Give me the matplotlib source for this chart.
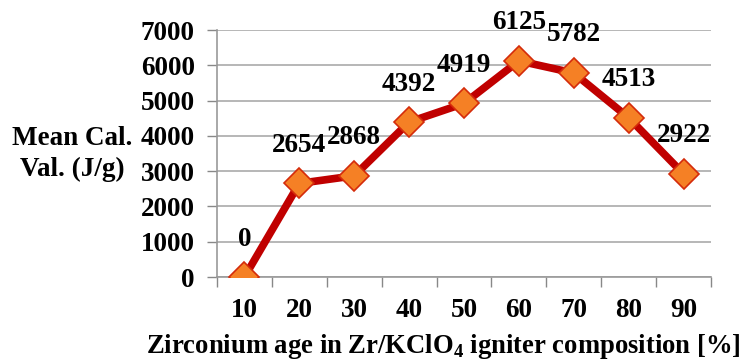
import numpy as np
import matplotlib.pyplot as plt

# composition (% zirconium) and mean calorific value (J/g)
zr_percent = ["10", "20", "30", "40", "50", "60", "70", "80", "90"]
mean_cal = [0, 2654, 2868, 4392, 4919, 6125, 5782, 4513, 2922]
y_ticks = [0, 1000, 2000, 3000, 4000, 5000, 6000, 7000]

plt.rcParams['font.family'] = ['Liberation Serif', 'DejaVu Serif']
plt.rcParams['font.weight'] = 'bold'
plt.rcParams['mathtext.fontset'] = 'custom'
plt.rcParams['mathtext.rm'] = 'Liberation Serif:bold'
plt.rcParams['mathtext.bf'] = 'Liberation Serif:bold'

FS = 19.5

fig = plt.figure(figsize=(7.47, 3.63), dpi=100)
ax = fig.add_axes([0.2905, 0.2369, 0.6613, 0.6804])

x = np.arange(len(zr_percent))
ax.plot(x, mean_cal, color="#C00000", lw=5.5, marker="D", ms=15.5,
        markerfacecolor="#F58025", markeredgecolor="#D42B0B", markeredgewidth=1.2,
        zorder=3, solid_capstyle="round")

for xi, v in zip(x, mean_cal):
    ax.annotate(str(v), (xi, v), xytext=(0, 38), textcoords="offset pixels",
                ha="center", va="center", fontsize=FS, fontweight="bold")

ax.set_xlim(-0.5, len(zr_percent) - 0.5)
ax.set_ylim(0, 7000)
ax.set_yticks(y_ticks)
ax.set_xticks(x)
ax.set_xticklabels(zr_percent)
ax.set_xticks(np.arange(-0.5, len(zr_percent)), minor=True)
ax.tick_params(axis="x", which="major", length=0, pad=15, labelsize=FS)
ax.tick_params(axis="x", which="minor", length=7, color="#888888", width=1)
ax.tick_params(axis="y", length=7, color="#888888", width=1, pad=9, labelsize=FS)
ax.grid(axis="y", color="#AAAAAA", lw=1.2)
ax.set_axisbelow(True)

for s in ["top", "right"]:
    ax.spines[s].set_visible(False)
for s in ["left", "bottom"]:
    ax.spines[s].set_color("#999999")
    ax.spines[s].set_linewidth(1.2)

fig.text(0.097, 0.575, "Mean Cal.\nVal. (J/g)", ha="center", va="center",
         fontsize=FS, fontweight="bold", linespacing=1.3)
fig.text(0.594, 0.045, r"Zirconium age in Zr/KClO$_4$ igniter composition [%]",
         ha="center", va="center", fontsize=19.2, fontweight="bold")

fig.savefig("out.png", dpi=100)
